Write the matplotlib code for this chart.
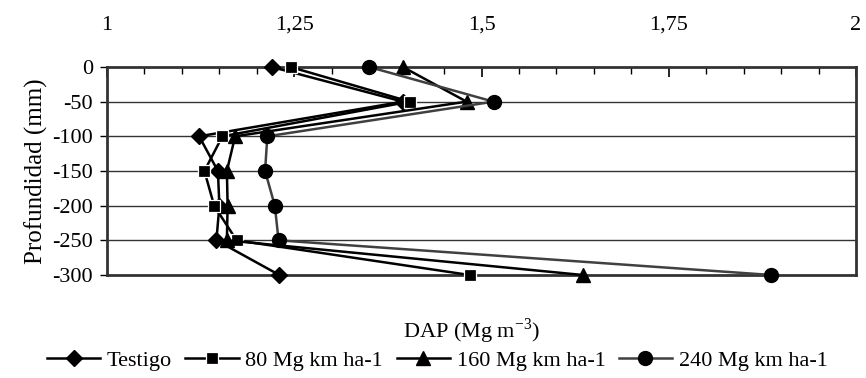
import matplotlib.pyplot as plt
import numpy as np

plt.rcParams['font.family'] = ['Liberation Serif', 'DejaVu Serif']
plt.rcParams['mathtext.fontset'] = 'custom'
plt.rcParams['mathtext.rm'] = 'Liberation Serif'

# Depths (mm) and bulk density (Mg m-3) per treatment
depth = [0, -50, -100, -150, -200, -250, -300]
testigo = [1.22, 1.395, 1.123, 1.148, 1.150, 1.146, 1.230]
t80 = [1.245, 1.404, 1.154, 1.130, 1.143, 1.173, 1.484]
t160 = [1.395, 1.480, 1.171, 1.160, 1.161, 1.160, 1.635]
t240 = [1.350, 1.516, 1.214, 1.211, 1.224, 1.229, 1.887]

labels = ['Testigo', '80 Mg km ha-1', '160 Mg km ha-1', '240 Mg km ha-1']
xticks = [1, 1.25, 1.5, 1.75, 2]
xticklabels = ['1', '1,25', '1,5', '1,75', '2']
yticks = [0, -50, -100, -150, -200, -250, -300]
yticklabels = ['0', '-50', '-100', '-150', '-200', '-250', '-300']

fig = plt.figure(figsize=(8.66, 3.78), dpi=100)
ax = fig.add_axes([0.1236, 0.2725, 0.8649, 0.5503])

for y in yticks[1:-1]:
    ax.axhline(y, color='#333333', lw=1.0, zorder=1)

ax.plot(testigo, depth, color='black', lw=1.8, marker='D', ms=8,
        mfc='black', mec='black', label=labels[0], clip_on=False, zorder=3)
ax.plot(t80, depth, color='black', lw=1.8, marker='s', ms=8.5,
        mfc='black', mec='white', mew=0.9, label=labels[1], clip_on=False, zorder=4)
ax.plot(t160, depth, color='black', lw=1.8, marker='^', ms=10,
        mfc='black', mec='black', label=labels[2], clip_on=False, zorder=5)
ax.plot(t240, depth, color='#404040', lw=1.8, marker='o', ms=10,
        mfc='black', mec='black', label=labels[3], clip_on=False, zorder=6)

ax.set_xlim(1, 2)
ax.set_ylim(-300, 0)
ax.xaxis.tick_top()
ax.set_xticks(xticks)
ax.set_xticklabels(xticklabels)
ax.set_xticks(np.arange(1, 2.0001, 0.05), minor=True)
ax.tick_params(axis='x', which='major', direction='in', length=7, width=1.2,
               labelsize=16, pad=23, colors='black')
ax.tick_params(axis='x', which='minor', direction='in', length=5, width=1.0)
ax.set_yticks(yticks)
ax.set_yticklabels(yticklabels)
ax.tick_params(axis='y', direction='out', length=5, width=1.0, labelsize=16, pad=5)

for side in ['left', 'right', 'bottom', 'top']:
    ax.spines[side].set_linewidth(2.0)
    ax.spines[side].set_color('#333333')

ax.set_ylabel('Profundidad (mm)', fontsize=18, labelpad=3)
fig.text(0.545, 0.125, 'DAP (Mg m$^{-3}$)', fontsize=16, ha='center', va='center')

fig.legend(loc='center', bbox_to_anchor=(0.505, 0.045), ncol=4, frameon=False,
           fontsize=16, handlelength=2.4, handletextpad=0.3, columnspacing=0.6,
           borderpad=0, borderaxespad=0)

fig.savefig('out.png', dpi=100)
